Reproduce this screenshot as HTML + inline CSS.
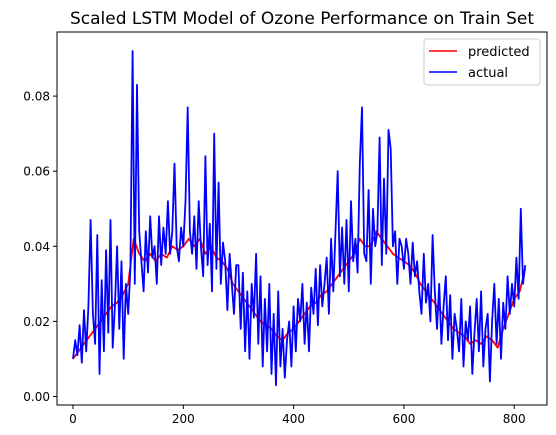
<!DOCTYPE html>
<html><head><meta charset="utf-8"><style>
body{margin:0;background:#fff;}
svg{display:block;font-family:"DejaVu Sans","Liberation Sans",sans-serif;}
</style></head><body>
<svg id="chart" width="556" height="435">
<text x="302" y="24" font-size="17" text-anchor="middle" fill="#000">Scaled LSTM Model of Ozone Performance on Train Set</text>
<g id="plot"></g>
</svg>
<script>
const actualStep = 4;
const actualVals = [10,15,11,19,9,23,12,24,47,22,14,43,6,31,12,39,17,47,13,24,40,18,36,10,30,
22,34,92,30,83,44,36,28,44,33,48,37,40,30,48,35,45,38,52,38,44,62,40,36,45,
40,52,77,44,38,48,34,52,40,32,64,35,46,28,70,34,57,30,41,36,23,38,30,22,35,
35,18,33,12,28,10,30,21,38,14,32,8,26,12,30,6,22,3,28,8,18,5,15,20,8,
24,12,26,20,30,14,25,12,29,22,34,19,35,24,30,37,22,42,28,44,60,32,45,30,47,
28,52,36,42,33,62,77,38,36,55,30,50,40,44,69,35,58,38,71,66,40,44,30,42,40,
34,42,38,30,41,32,36,28,22,38,25,30,20,43,28,18,30,14,24,32,15,27,10,22,18,
12,26,8,20,15,24,6,17,26,12,28,8,18,22,4,20,30,14,26,10,25,18,32,22,30,
24,37,26,50,30,35];
const predStep = 10;
const predVals = [10,12,14,16,18,20,22,24,25,27,
30,42,38,36,38,36,38,37,40,39,
40,42,40,42,38,40,37,36,34,30,
28,26,24,22,20,19,18,16,15,17,
18,20,22,24,25,27,28,30,32,34,
36,38,42,40,40,44,42,40,38,37,
36,35,33,30,28,26,24,22,20,18,
17,16,14,15,14,16,15,13,18,22,
26,28,34];
const xTicks = [0,200,400,600,800];
const yTicks = [0.00,0.02,0.04,0.06,0.08];
const yTickLabels = ["0.00","0.02","0.04","0.06","0.08"];

const L=57,R=547,T=32,B=405;
const X=v=>73+v*0.5515;
const Y=v=>396.5-v*3755;
const NS="http://www.w3.org/2000/svg";
const g=document.getElementById('plot');
function mk(tag,attrs){const e=document.createElementNS(NS,tag);for(const k in attrs)e.setAttribute(k,attrs[k]);g.appendChild(e);return e;}

function pathFrom(vals,step){return vals.map((v,i)=>(i?'L':'M')+X(i*step).toFixed(1)+','+Y(v/1000).toFixed(1)).join('');}
const pp=mk('path',{d:pathFrom(predVals,predStep),fill:'none',stroke:'#ff0000','stroke-width':1.8,'stroke-linejoin':'round'});


const ap=mk('path',{d:pathFrom(actualVals,actualStep),fill:'none',stroke:'#0000ff','stroke-width':1.8,'stroke-linejoin':'round'});



const fr=mk('rect',{x:L,y:T,width:R-L,height:B-T,fill:'none',stroke:'#000','stroke-width':1});



xTicks.forEach(t=>{
  mk('line',{x1:X(t),x2:X(t),y1:B,y2:B+4,stroke:'#000'});
  const tx=mk('text',{x:X(t),y:B+18,'font-size':12,'text-anchor':'middle'});
  tx.textContent=t;
  
  
});
yTicks.forEach((t,i)=>{
  mk('line',{x1:L-4,x2:L,y1:Y(t),y2:Y(t),stroke:'#000'});
  const tx=mk('text',{x:L-7,y:Y(t)+4.5,'font-size':12,'text-anchor':'end'});
  tx.textContent=yTickLabels[i];
  
  
});

const lg=mk('rect',{x:424,y:39,width:116,height:46,rx:3,fill:'#fff','fill-opacity':0.8,stroke:'#ccc'});


mk('line',{x1:429,x2:457,y1:51,y2:51,stroke:'#ff0000','stroke-width':1.5});
mk('line',{x1:429,x2:457,y1:72,y2:72,stroke:'#0000ff','stroke-width':1.5});
const l1=mk('text',{x:468,y:56,'font-size':13});l1.textContent='predicted';


const l2=mk('text',{x:468,y:77,'font-size':13});l2.textContent='actual';


</script>
</body></html>
